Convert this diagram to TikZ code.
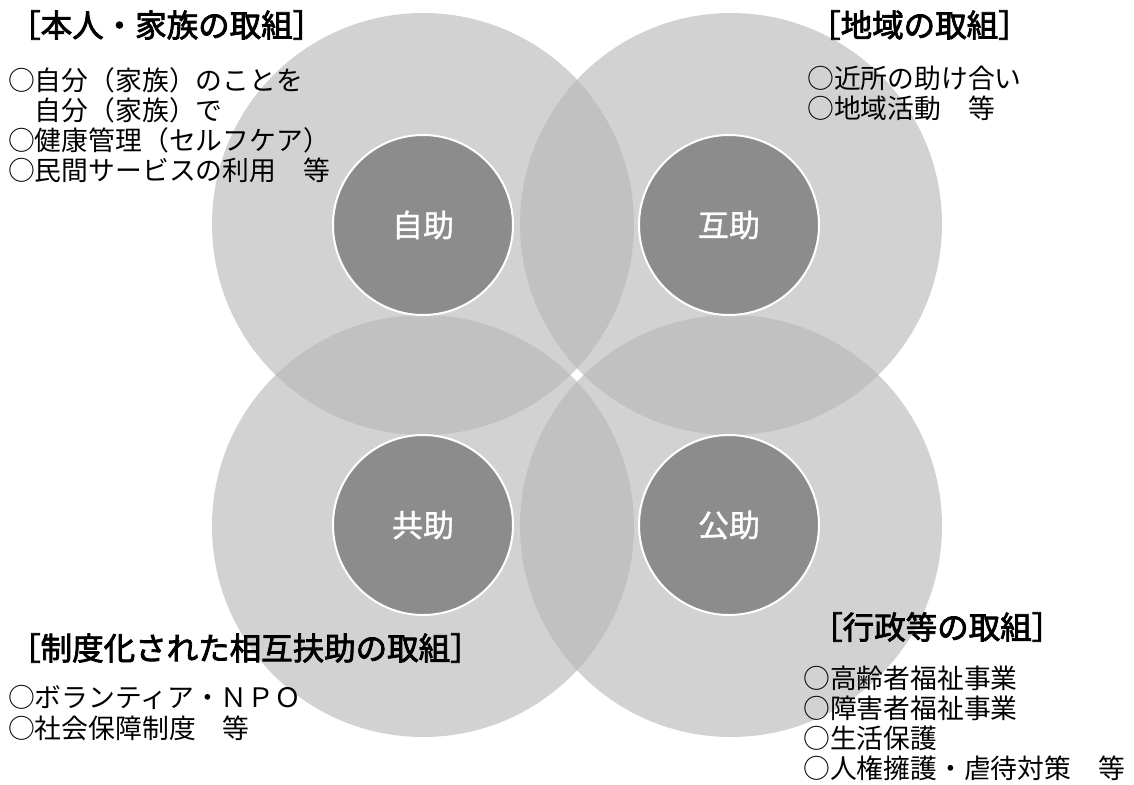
\documentclass[tikz,border=0pt]{standalone}
\usepackage{fontspec}
\setmainfont{Noto Sans CJK JP}
\newfontfamily\headfont[FakeBold=2.5]{Noto Sans CJK JP}
\newfontfamily\circfont[FakeBold=1.2]{Noto Sans CJK JP}
\definecolor{bigfill}{RGB}{183,183,183}
\definecolor{smallfill}{RGB}{140,140,140}
\tikzset{
  bigcircle/.style={fill=bigfill, fill opacity=0.614, draw=none},
  helpnode/.style={circle, fill=smallfill, draw=white, line width=2pt, minimum size=180pt, inner sep=0pt, text=white, font=\circfont\fontsize{31}{34}\selectfont},
  headtext/.style={anchor=base west, inner sep=0pt, font=\headfont\fontsize{31.5}{36}\selectfont},
  bodytext/.style={anchor=base west, inner sep=0pt, align=left, font=\fontsize{26.8}{30}\selectfont},
}
\begin{document}
\begin{tikzpicture}[x=1pt,y=-1pt]
\useasboundingbox (0,0) rectangle (1134,784);
\fill[white] (0,0) rectangle (1134,784);
% large circles
\fill[bigcircle] (423,224) circle[radius=211pt];
\fill[bigcircle] (731,224) circle[radius=211pt];
\fill[bigcircle] (423,526) circle[radius=211pt];
\fill[bigcircle] (731,526) circle[radius=211pt];
% small circles
\node[helpnode] (jijo) at (423,225) {自助};
\node[helpnode] (gojo) at (729,225) {互助};
\node[helpnode] (kyojo) at (423,525) {共助};
\node[helpnode] (kojo) at (729,525) {公助};
% texts
\node[headtext] (h1) at (9,37) {［本人・家族の取組］};
\node[bodytext] (b1) at (8,180) {○自分（家族）のことを\\　自分（家族）で\\○健康管理（セルフケア）\\○民間サービスの利用　等};
\node[headtext] (h2) at (809,37) {［地域の取組］};
\node[bodytext] (b2) at (807,118) {○近所の助け合い\\○地域活動　等};
\node[headtext] (h3) at (9,660) {［制度化された相互扶助の取組］};
\node[bodytext, font=\fontsize{26.8}{31}\selectfont] (b3) at (8,738) {○ボランティア・ＮＰＯ\\○社会保障制度　等};
\node[headtext] (h4) at (811,639) {［行政等の取組］};
\node[bodytext] (b4) at (803,778) {○高齢者福祉事業\\○障害者福祉事業\\○生活保護\\○人権擁護・虐待対策　等};
\end{tikzpicture}
\end{document}
